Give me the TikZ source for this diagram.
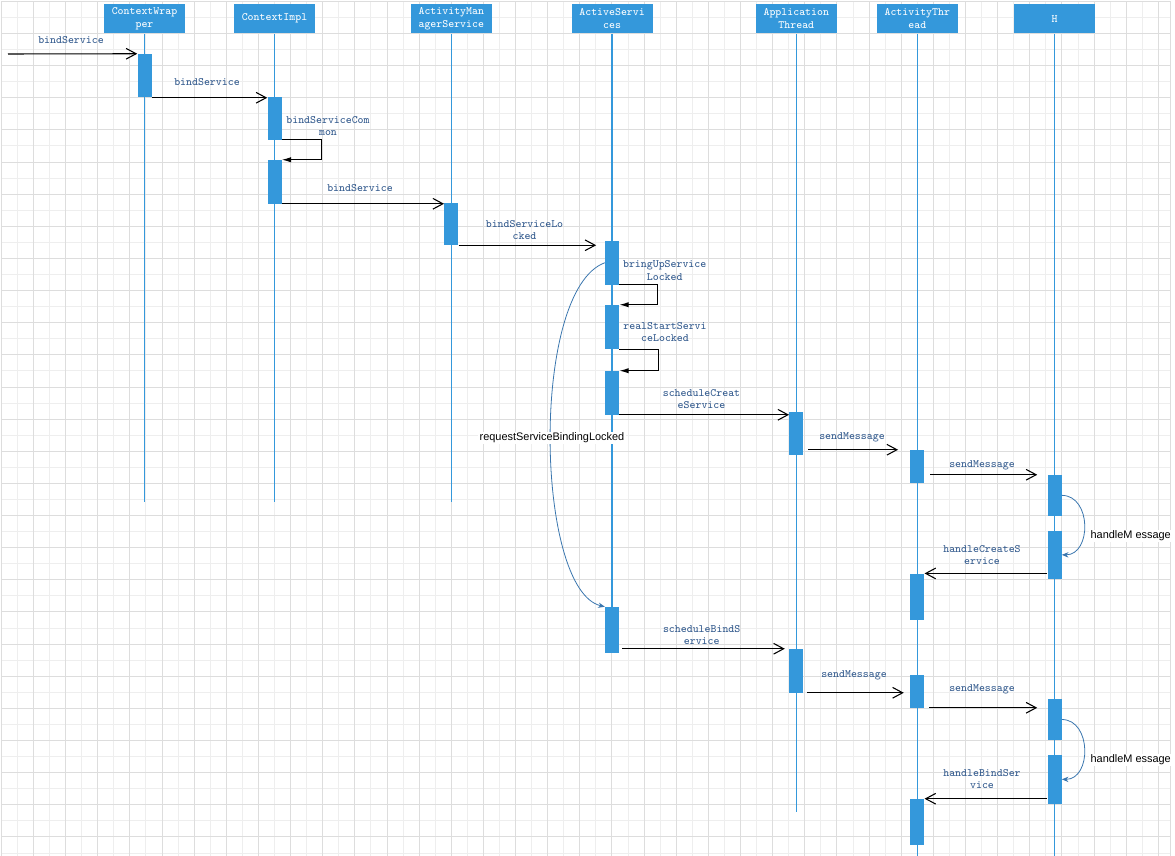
\documentclass[tikz,border=0pt]{standalone}
\usepackage{fontspec}
\newfontfamily\notefont{Liberation Sans}
\usepackage{xcolor}
\usepackage{tikz}
\usetikzlibrary{arrows.meta}

\definecolor{lifeblue}{HTML}{3498DB}
\definecolor{msgtext}{HTML}{30588C}
\definecolor{curveblue}{HTML}{3A76AE}
\definecolor{gridmaj}{HTML}{DDDDDD}
\definecolor{gridmin}{HTML}{EEEEEE}

\begin{document}
\begin{tikzpicture}[x=0.75pt, y=-0.75pt,
  obj/.style     = {fill=lifeblue, minimum width=60.75pt, minimum height=22pt, inner sep=0pt,
                    align=center, text=white, font=\ttfamily\fontsize{8.4}{9.5}\selectfont},
  life/.style    = {draw=lifeblue, line width=1pt},
  act/.style     = {fill=lifeblue, minimum width=10.5pt, inner sep=0pt},
  msg/.style     = {draw=black, line width=0.8pt, -{Straight Barb[length=7.5pt,width=8pt]}},
  selfmsg/.style = {draw=black, line width=0.8pt, -{Latex[length=7pt,width=4pt]}},
  curvy/.style   = {draw=curveblue, line width=0.6pt, -{Stealth[length=5pt,width=4pt]}},
  lbl/.style     = {text=msgtext, inner sep=0pt, align=center, font=\ttfamily\fontsize{8.4}{9.5}\selectfont},
  note/.style    = {fill=white, inner sep=1pt, font=\notefont\fontsize{8.2}{10}\selectfont}
]
\useasboundingbox (0,0) rectangle (1175,856);

% --- grille ---
\foreach \i in {1,3,...,71} { \draw[gridmin, line width=0.7pt] ({1.3+16.07*\i},1.3) -- ({1.3+16.07*\i},856); }
\foreach \j in {1,3,...,53} { \draw[gridmin, line width=0.7pt] (1.3,{1.3+16.07*\j}) -- (1170,{1.3+16.07*\j}); }
\foreach \i in {0,2,...,72} { \draw[gridmaj, line width=0.7pt] ({1.3+16.07*\i},1.3) -- ({1.3+16.07*\i},856); }
\foreach \j in {0,2,...,52} { \draw[gridmaj, line width=0.7pt] (1.3,{1.3+16.07*\j}) -- (1170,{1.3+16.07*\j}); }
\draw[gridmaj, line width=0.7pt] (1170,1.3) -- (1170,856);

% --- objets et lignes de vie ---
\foreach \n/\x/\txt in {cw/144.5/{ContextWrap\\per}, ci/274.5/{ContextImpl},
    ams/451.3/{ActivityMan\\agerService}, as/612.1/{ActiveServi\\ces},
    at/796.3/{Application\\Thread}, ath/917.3/{ActivityThr\\ead}, h/1054.5/{H}} {
  \node[obj] (\n) at (\x,18.75) {\txt};
}
\foreach \n/\e in {cw/502, ci/502, ams/502, as/652, at/812, ath/856, h/856} {
  \draw[life] (\n.south) -- +(0,{\e-33.5});
}

% --- barres d'activation ---
\foreach \n/\x/\ya/\yb in {cw1/144.5/54/97.5, ci1/274.5/97/139.5, ci2/274.5/160/203.5,
    ams1/451.3/203/245, as1/612.1/241/284.5, as2/612.1/305/349, as3/612.1/371/414.5,
    as4/612.1/607/652.5, at1/796.3/412/455, at2/796.3/649/692.5,
    ath1/917.3/450/482.5, ath2/917.3/573.7/620, ath3/917.3/675/707.5, ath4/917.3/799/844.5,
    h1/1054.5/475/515.7, h2/1054.5/531/578.7, h3/1054.5/699/740, h4/1054.5/755/803.7} {
  \node[act, minimum height={(\yb-\ya)*0.75pt}] (\n) at (\x,{(\ya+\yb)/2}) {};
}

% --- messages : creation du service ---
\coordinate (in) at (8,54);
\draw[msg] (in) -- (cw1.north west);
\draw[msg] (cw1.south east) -- (cw1.south east -| ci1.west);
\draw[selfmsg] (ci1.south east) -- ++(39.5,0) |- (ci2.north east);
\draw[msg] (ci2.south east) -- (ci2.south east -| ams1.west);
\draw[msg, shorten >=6.5pt] (ams1.south east) -- (ams1.south east -| as1.west);
\draw[selfmsg] (as1.south east) -- ++(38.5,0) |- (as2.north east);
\draw[selfmsg] (as2.south east) -- ++(39.5,0) |- (as3.north east);
\draw[msg] (as3.south east) -- (as3.south east -| at1.west);
\draw[msg, shorten <=3.5pt, shorten >=9pt] (at1.east |- ath1.north) -- (ath1.north west);
\draw[msg, shorten <=4.3pt, shorten >=7.5pt] (ath1.east |- h1.north) -- (h1.north west);
\draw[curvy] (h1.east) .. controls +(30,0) and +(30,0) .. (h2.east);
\draw[msg] (h2.west |- ath2.north) -- (ath2.north east);

% --- messages : liaison du service ---
\draw[curvy] (as1.west) .. controls (530,290) and (535,590) .. (as4.north west);
\draw[msg, shorten <=2.25pt, shorten >=3.2pt] (as4.east |- at2.north) -- (at2.north west);
\draw[msg, shorten <=2.8pt, shorten >=4.7pt] (at2.south east) -- (at2.south east -| ath3.west);
\draw[msg, shorten <=3.5pt, shorten >=7.5pt] (ath3.south east) -- (ath3.south east -| h3.west);
\draw[curvy] (h3.east) .. controls +(30,0) and +(30,0) .. (h4.east);
\draw[msg] (h4.west |- ath4.north) -- (ath4.north east);

% --- etiquettes ---
\node[lbl] (l1) at (71,40) {bindService};
\node[lbl] (l2) at (207,82) {bindService};
\node[lbl] (l3) at (328,126) {bindServiceCom\\mon};
\node[lbl] (l4) at (360,188) {bindService};
\node[lbl] (l5) at (524.5,230) {bindServiceLo\\cked};
\node[lbl] (l6) at (664.7,270.8) {bringUpService\\Locked};
\node[lbl] (l7) at (665,332) {realStartServi\\ceLocked};
\node[lbl] (l8) at (701.5,399) {scheduleCreat\\eService};
\node[lbl] (l9) at (852,437) {sendMessage};
\node[lbl] (l10) at (982,465) {sendMessage};
\node[note, anchor=west] (l11) at (1089,536) {handleM essage};
\node[lbl] (l12) at (982,555) {handleCreateS\\ervice};
\node[note] (l13) at (552,438) {requestServiceBindingLocked};
\node[lbl] (l14) at (701.7,635) {scheduleBindS\\ervice};
\node[lbl] (l15) at (854,675) {sendMessage};
\node[lbl] (l16) at (982,689) {sendMessage};
\node[note, anchor=west] (l17) at (1089,760) {handleM essage};
\node[lbl] (l18) at (982,779) {handleBindSer\\vice};
\end{tikzpicture}
\end{document}
